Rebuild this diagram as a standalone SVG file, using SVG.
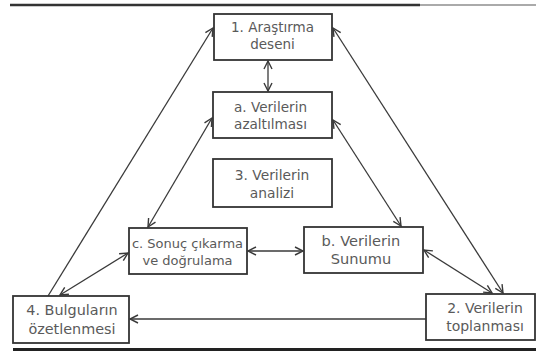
<svg xmlns="http://www.w3.org/2000/svg" width="536" height="354" viewBox="0 0 536 354">
<style>
.box{fill:#fff;stroke:#333;stroke-width:1.8}
.t{font-family:"DejaVu Sans",sans-serif;fill:#5a5a5a;text-anchor:middle}
.c{stroke:#3a3a3a;stroke-width:1.3;fill:none}
.a1{marker-end:url(#ah)}
.a2{marker-start:url(#ah);marker-end:url(#ah)}
</style>
<defs>
<marker id="ah" markerUnits="userSpaceOnUse" markerWidth="12" markerHeight="12" refX="9" refY="5" orient="auto-start-reverse" viewBox="0 0 12 10">
<path d="M1,1 L9,5 L1,9" fill="none" stroke="#3a3a3a" stroke-width="1.4"/>
</marker>
</defs>
<rect width="536" height="354" fill="#fff"/>
<line x1="10" y1="5" x2="420" y2="5" stroke="#333" stroke-width="2.5"/>
<line x1="420" y1="5" x2="536" y2="5" stroke="#aaa" stroke-width="2"/>
<line x1="13" y1="349.5" x2="536" y2="349.5" stroke="#222" stroke-width="3"/>
<g id="connectors">
<line class="c a2" x1="268" y1="61" x2="268" y2="91"/>
<line class="c a1" x1="48" y1="296" x2="213" y2="28"/>
<line class="c a2" x1="503" y1="293" x2="333" y2="28"/>
<line class="c a2" x1="212" y1="118" x2="148" y2="227"/>
<line class="c a2" x1="333" y1="120" x2="401" y2="226"/>
<line class="c a2" x1="248" y1="251" x2="303" y2="251"/>
<line class="c a2" x1="60" y1="295" x2="128" y2="253"/>
<line class="c a2" x1="424" y1="250" x2="492" y2="293"/>
<line class="c a1" x1="426" y1="319" x2="130" y2="319"/>
</g>
<g id="n1"><rect class="box" x="214" y="14" width="118" height="46"/>
<text class="t" font-size="13.5"><tspan x="272.5" y="32">1. Araştırma</tspan><tspan x="272.5" y="49">deseni</tspan></text></g>
<g id="na"><rect class="box" x="213" y="92" width="119" height="46"/>
<text class="t" font-size="13.6"><tspan x="270.5" y="112">a. Verilerin</tspan><tspan x="270.5" y="129">azaltılması</tspan></text></g>
<g id="n3"><rect class="box" x="213" y="159" width="119" height="48"/>
<text class="t" font-size="13.8"><tspan x="272" y="180">3. Verilerin</tspan><tspan x="272" y="198">analizi</tspan></text></g>
<g id="nc"><rect class="box" x="129" y="228" width="118" height="46"/>
<text class="t" font-size="13"><tspan x="187.5" y="248">c. Sonuç çıkarma</tspan><tspan x="187.5" y="265">ve doğrulama</tspan></text></g>
<g id="nb"><rect class="box" x="304" y="227" width="119" height="46"/>
<text class="t" font-size="14.6"><tspan x="361" y="246">b. Verilerin</tspan><tspan x="361" y="264">Sunumu</tspan></text></g>
<g id="n4"><rect class="box" x="13" y="296" width="116" height="47"/>
<text class="t" font-size="14.4"><tspan x="72" y="315">4. Bulguların</tspan><tspan x="72" y="334">özetlenmesi</tspan></text></g>
<g id="n2"><rect class="box" x="426" y="294" width="109" height="46"/>
<text class="t" font-size="14"><tspan x="485" y="313">2. Verilerin</tspan><tspan x="485" y="331">toplanması</tspan></text></g>
</svg>
